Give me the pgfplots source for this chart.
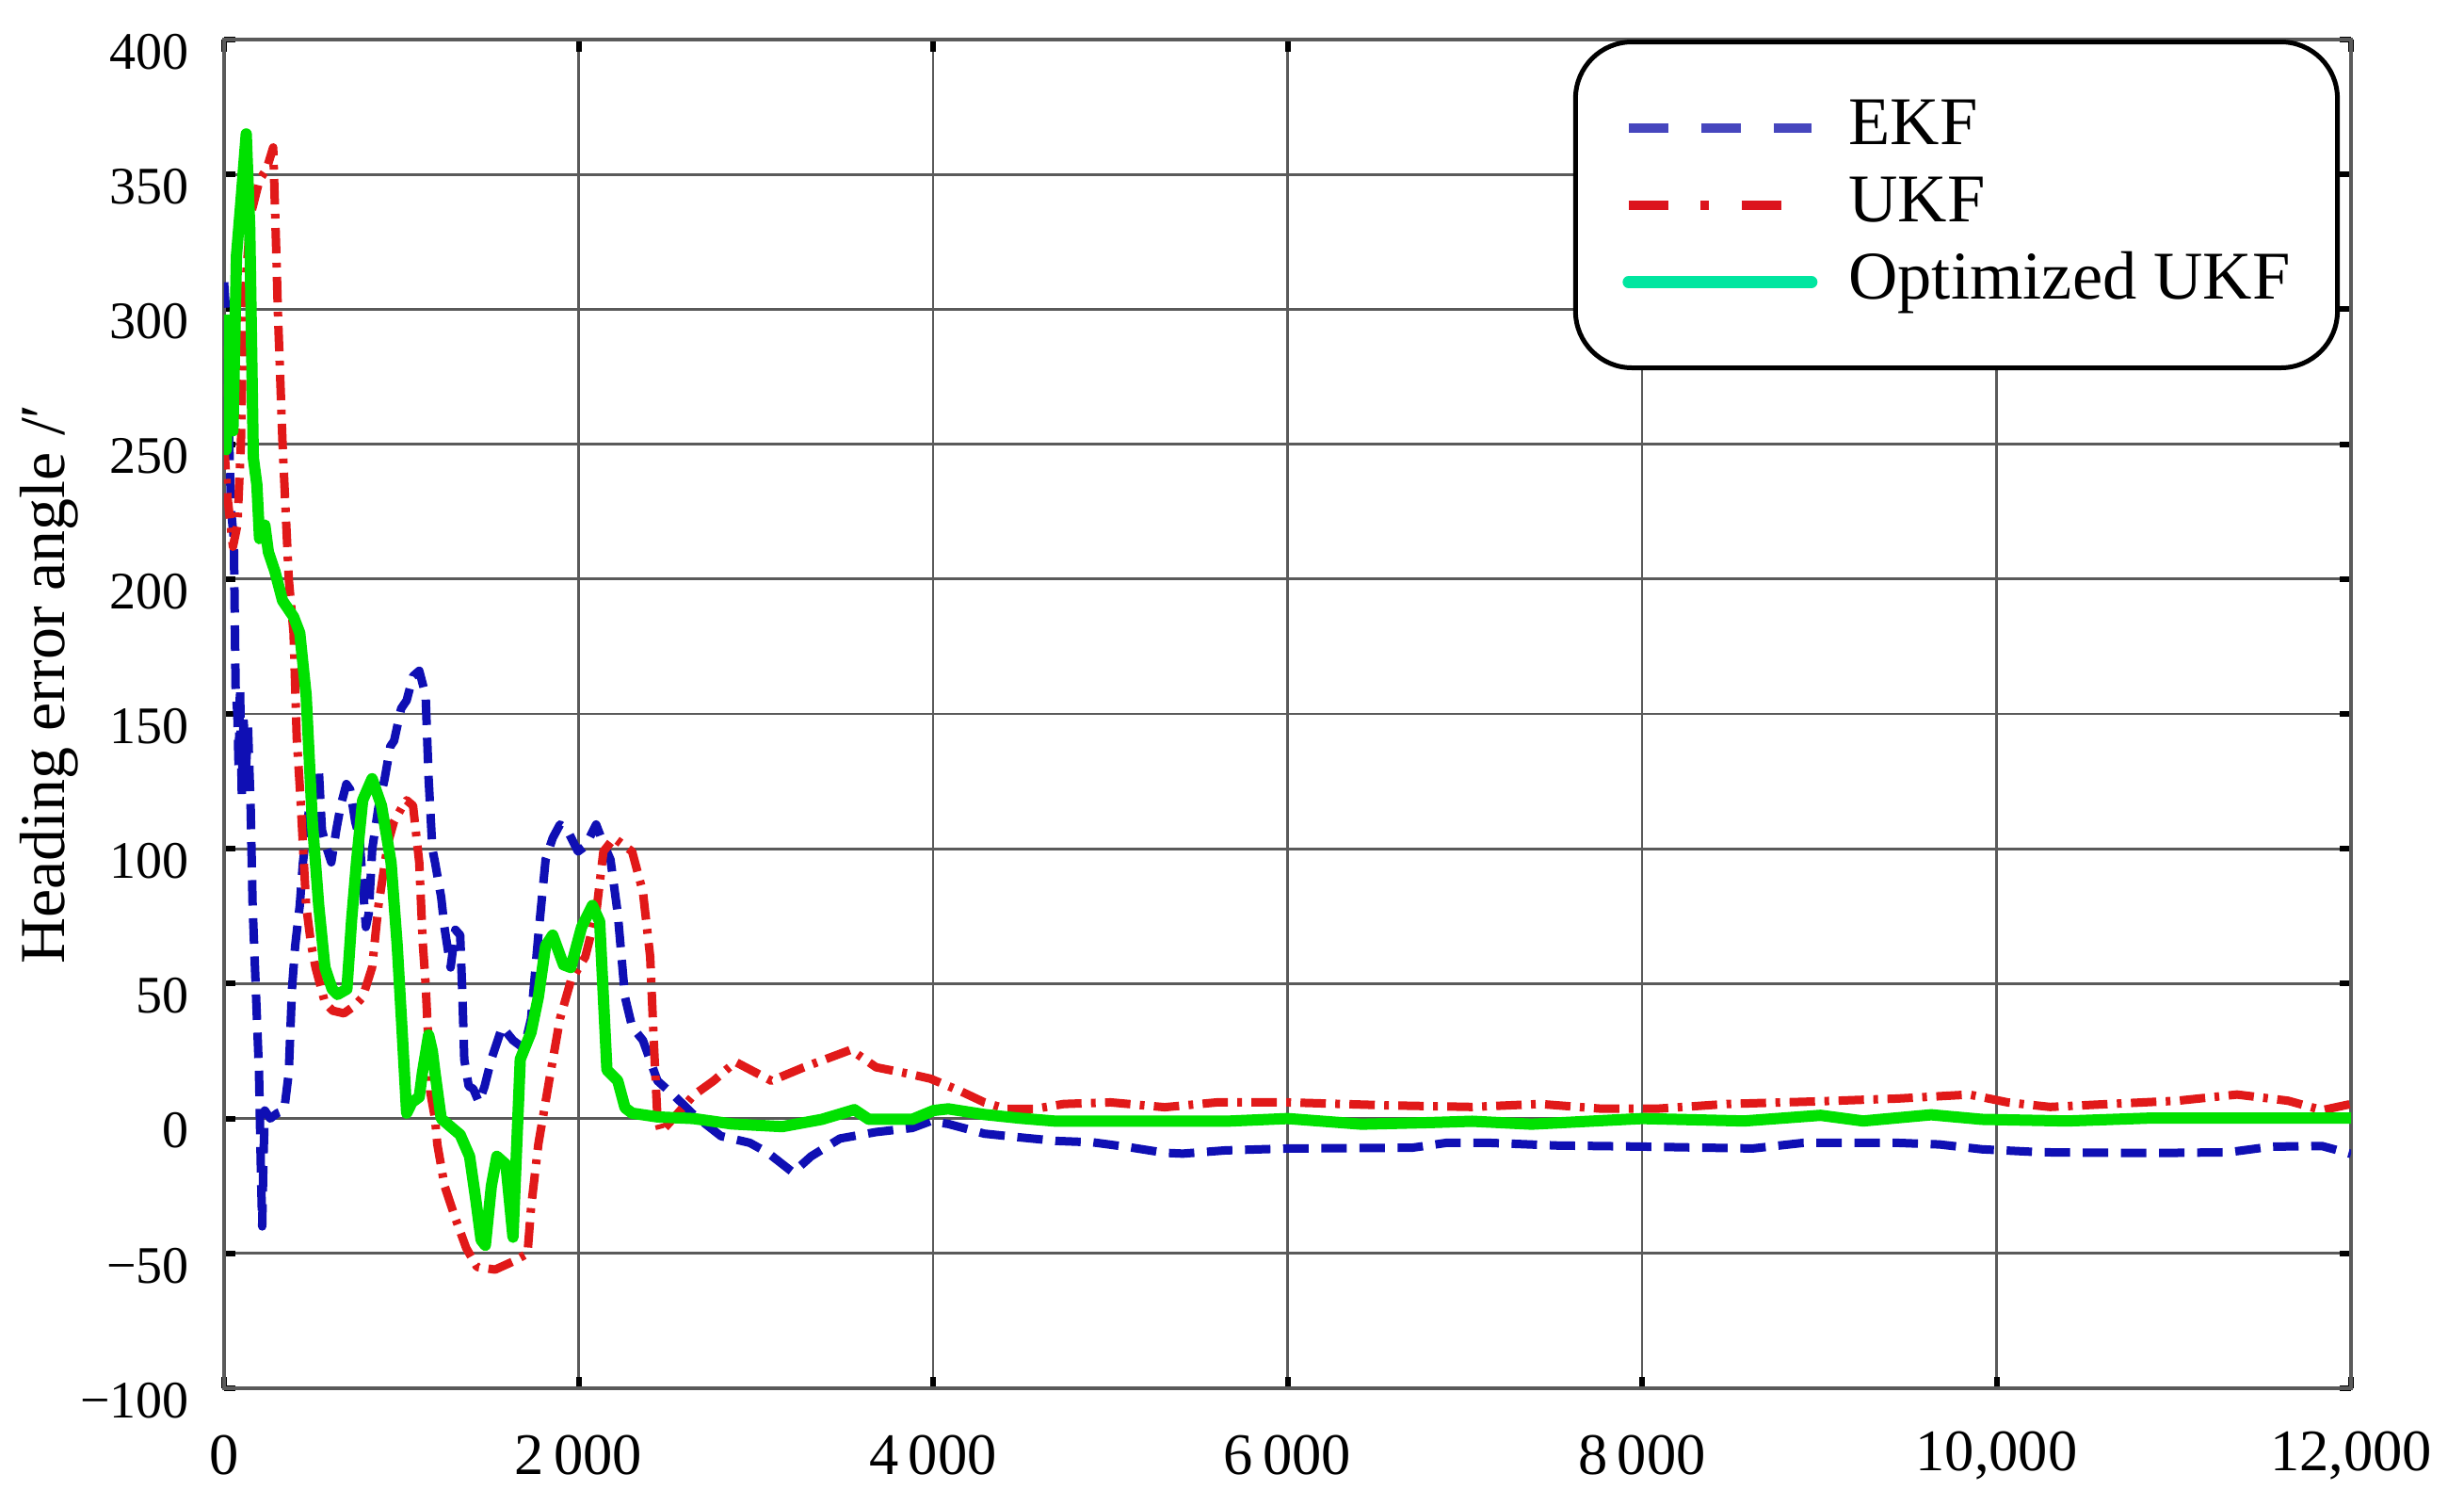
\documentclass[border=0pt]{standalone}
\usepackage{fontspec}
\setmainfont{Liberation Serif}
\usepackage{pgfplots}
\pgfplotsset{compat=1.18}
\definecolor{ekf}{RGB}{15,15,180}
\definecolor{ukf}{RGB}{225,25,25}
\definecolor{oukf}{RGB}{0,225,0}
\definecolor{ekfleg}{RGB}{70,70,190}
\definecolor{ukfleg}{RGB}{220,20,30}
\definecolor{oukfleg}{RGB}{0,230,160}
\definecolor{gridc}{RGB}{90,90,90}
\pgfplotsset{ukflegimg/.style={legend image code/.code={\draw[##1] (0pt,0pt) -- (32.6pt,0pt);}}}

\pgfplotstableread{
x y
0 310
10 300
25 260
40 225
55 215
65 160
75 150
82 130
90 160
100 120
110 150
120 125
135 145
150 115
161 79
179 48
197 17
208 -20
215 -40
222 -15
230 3
260 0
300 2
339 3
365 17
383 48
401 64
427 79
445 95
480 115
534 130
552 107
580 100
605 95
633 107
658 116
690 124
711 122
740 110
764 104
790 80
800 71
816 76
836 100
870 115
906 126
938 138
959 140
999 152
1030 155
1066 164
1101 166
1137 157
1154 126
1175 100
1190 95
1225 82
1243 71
1278 56
1305 70
1332 68
1345 45
1355 22
1380 12
1406 11
1438 6
1470 12
1508 22
1569 34
1630 29
1692 26
1732 37
1773 68
1814 96
1854 104
1895 109
1936 107
1997 99
2038 101
2099 109
2140 102
2180 96
2221 76
2262 45
2302 34
2363 29
2445 14
2547 8
2648 1.5
2803 -6.5
2966 -9
3068 -12.7
3210 -20
3312 -14
3475 -7.4
3679 -5
3882 -3.5
3984 -1
4086 -2
4289 -5.6
4493 -7
4697 -8.3
4900 -8.8
5104 -10.6
5307 -12.7
5409 -13
5649 -11.8
6000 -11.1
6705 -10.8
6897 -9
7137 -9
7520 -10
8000 -10.4
8623 -11.1
8911 -9
9439 -9
9678 -9.6
9918 -11.4
10254 -12.5
10877 -12.8
11309 -12.5
11549 -10.4
11837 -10.2
12000 -13.1
}\ekfdata

\pgfplotstableread{
x y
0 250
20 230
50 212
75 220
95 250
110 300
150 335
200 348
240 352
277 360
295 320
303 300
330 250
365 200
392 180
410 141
430 120
450 95
463 79
490 65
516 56
569 43
612 40
676 39
740 42
782 45
835 56
871 79
924 102
958 110
1000 115
1030 118
1066 116
1101 95
1121 65
1137 50
1152 29
1163 10
1190 0
1203 -9.5
1244 -25
1305 -37
1366 -48
1427 -55
1529 -56
1630 -53
1712 -50
1732 -33
1773 -9.5
1834 14
1895 37
1956 51
2038 60
2099 76
2140 99
2200 104
2302 99
2363 84
2404 60
2424 29
2445 0
2465 -5
2547 1
2648 8.6
2762 14
2885 21
2986 17.5
3088 14
3271 19
3434 23
3536 25.5
3679 19
3862 16.6
3984 14.8
4147 10.4
4289 6
4412 3.6
4575 3.6
4737 5.4
5002 6
5307 4.2
5602 6
6000 6
6561 4.9
7041 4.3
7424 5.4
7760 3.7
8096 3.7
8480 5.4
8959 6.3
9439 7.4
9846 8.9
10062 6
10302 4.3
10638 5.4
11021 6.6
11357 8.9
11645 6.6
11837 3.1
12000 5.4
}\ukfdata

\pgfplotstableread{
x y
0 298
12 248
30 290
50 255
70 320
95 340
125 365
145 330
165 245
185 235
200 215
230 220
250 210
286 203
330 192
392 186
427 180
463 157
498 110
534 79
569 56
610 48
640 46
693 48
720 74
747 95
782 118
835 126
888 116
942 95
977 64
1004 33
1030 2
1060 6
1101 8
1119 17
1154 31
1175 25
1190 17
1225 0
1278 -3
1332 -6
1385 -14
1420 -30
1450 -45
1474 -47
1508 -25
1539 -14
1590 -17
1630 -44
1651 -10
1671 22
1732 32
1773 45
1814 64
1854 68
1915 57
1956 56
2017 71
2078 79
2119 73
2140 45
2160 18
2221 14
2262 4
2302 2
2445 0.6
2648 0
2864 -2
3149 -3
3373 -0.3
3556 3.3
3638 -0.3
3882 -0.3
4004 3
4086 3.6
4289 1.5
4493 0.1
4697 -1
5649 -1
6000 0
6417 -2.1
6801 -1.5
7041 -1
7376 -2.1
8000 0
8576 -0.9
9007 1.2
9247 -0.9
9631 1.4
9918 -0.3
10398 -0.9
10877 0.2
12000 0.2
}\oukfdata

\begin{document}
\begin{tikzpicture}
\useasboundingbox (-47.6pt,-24.8pt) rectangle (475.8pt,294.8pt);
\begin{axis}[
  at={(0,0)}, anchor=south west,
  scale only axis, width=451.8pt, height=286.4pt,
  xmin=0, xmax=12000, ymin=-100, ymax=400,
  xtick={0,2000,4000,6000,8000,10000,12000},
  ytick={-100,-50,0,50,100,150,200,250,300,350,400},
  xticklabels={0,2\,000,4\,000,6\,000,8\,000,{10,000},{12,000}},
  yticklabels={\raisebox{-2.2pt}{−100},−50,0,50,100,150,200,250,300,350,400},
  grid=major, major grid style={gridc, line width=0.55pt},
  axis line style={gridc, line width=0.8pt},
  tick align=inside, major tick length=2.5pt,
  tick style={black, line width=1.2pt},
  xticklabel style={font=\fontsize{12.5}{14}\selectfont, anchor=center, yshift=-14.2pt},
  yticklabel style={font=\fontsize{11.2}{13}\selectfont, anchor=east, inner sep=0pt, xshift=-7.2pt, yshift=-2.6pt},
  ylabel={Heading error angle /′},
  ylabel style={font=\fontsize{13.6}{15}\selectfont, at={(axis description cs:-0.0823,0.522)}, anchor=center},
  legend style={at={(0.9947,1)}, anchor=north east, draw=black, line width=1pt,
    rounded corners=12pt, fill=white, inner xsep=10pt, inner ysep=11.7pt,
    row sep=3.4pt, column sep=6.6pt, font=\fontsize{14.5}{16}\selectfont,
    nodes={inner sep=0pt, text height=10pt, text depth=3pt}},
  legend cell align=left,
  legend image code/.code={\draw[#1] (0pt,0pt) -- (38.8pt,0pt);},
]
\addlegendimage{ekfleg, line width=2pt, dash pattern=on 8.4pt off 7pt}
\addlegendentry{EKF}
\addlegendimage{ukflegimg, ukfleg, line width=2pt, dash pattern=on 8.4pt off 6.9pt on 1.8pt off 6.9pt}
\addlegendentry{UKF}
\addlegendimage{oukfleg, line width=2.6pt, line cap=round}
\addlegendentry{Optimized UKF}

\addplot[forget plot, ekf, line width=1.8pt, line join=round, dash pattern=on 5.4pt off 2.7pt] table[x=x,y=y] {\ekfdata};
\addplot[forget plot, ukf, line width=1.8pt, line join=round, dash pattern=on 5.4pt off 2pt on 1pt off 2pt] table[x=x,y=y] {\ukfdata};
\addplot[forget plot, oukf, line width=2.4pt, line join=round] table[x=x,y=y] {\oukfdata};
\end{axis}
\end{tikzpicture}
\end{document}
